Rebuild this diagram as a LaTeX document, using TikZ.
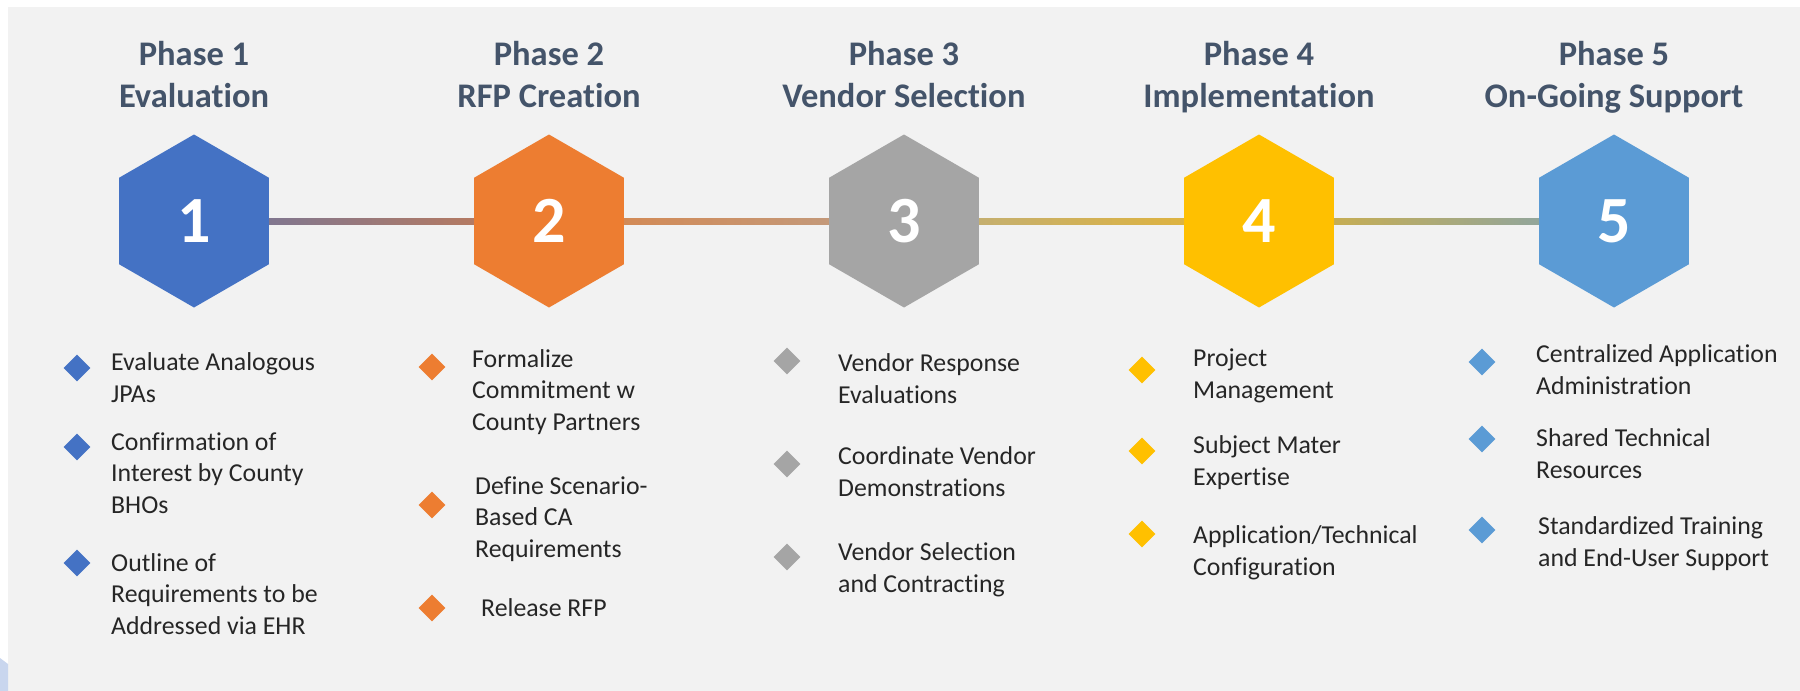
\documentclass[tikz,border=0pt]{standalone}
\usepackage{fontspec}
\setmainfont[Ligatures=NoCommon]{Carlito}
\usetikzlibrary{shapes.geometric,calc}
\pgfdeclarelayer{background}
\pgfsetlayers{background,main}
\definecolor{bg}{HTML}{F2F2F2}
\definecolor{cA}{HTML}{4472C4}
\definecolor{cB}{HTML}{ED7D31}
\definecolor{cC}{HTML}{A5A5A5}
\definecolor{cD}{HTML}{FFC000}
\definecolor{cE}{HTML}{5B9BD5}
\definecolor{titlec}{HTML}{44546A}
\definecolor{txt}{HTML}{262626}
\definecolor{cornerc}{HTML}{C9D6EE}
\begin{document}
\begin{tikzpicture}[x=1pt,y=-1pt,
  hexa/.style={regular polygon, regular polygon sides=6, shape border rotate=30,
    minimum size=173pt, inner sep=0pt, outer sep=0pt, fill=#1, draw=none,
    text=white, font=\bfseries\fontsize{66}{66}\selectfont},
  bullet/.style={diamond, aspect=1, minimum width=27pt, minimum height=27pt,
    inner sep=0pt, fill=#1, draw=none},
  item/.style={anchor=base west, align=left, inner sep=0pt, text=txt,
    font=\fontsize{25.8}{31.5}\selectfont},
  phasetitle/.style={anchor=base, align=center, inner sep=0pt, text=titlec,
    font=\bfseries\fontsize{34.5}{42}\selectfont}]
\useasboundingbox (0,0) rectangle (1800,691);
\begin{pgfonlayer}{background}
  \fill[white] (0,0) rectangle (1800,691);
  \fill[bg] (8,7) rectangle (1800,691);
  \fill[cornerc] (0,658) -- (8,664) -- (8,691) -- (0,691) -- cycle;
\end{pgfonlayer}

% titles (anchor = baseline of the last line)
\node[phasetitle] (t1) at (194,107) {Phase 1\\Evaluation};
\node[phasetitle] (t2) at (549,107) {Phase 2\\RFP Creation};
\node[phasetitle] (t3) at (904,107) {Phase 3\\Vendor Selection};
\node[phasetitle] (t4) at (1259,107) {Phase 4\\Implementation};
\node[phasetitle] (t5) at (1614,107) {Phase 5\\On-Going Support};

% hexagons
\node[hexa=cA] (h1) at (194,221) {1};
\node[hexa=cB] (h2) at (549,221) {2};
\node[hexa=cC] (h3) at (904,221) {3};
\node[hexa=cD] (h4) at (1259,221) {4};
\node[hexa=cE] (h5) at (1614,221) {5};

% connectors
\begin{pgfonlayer}{background}
  \shade[left color={rgb,255:red,110;green,118;blue,160}, right color={rgb,255:red,199;green,123;blue,82}]
    ($(h1.center)+(0,-3)$) rectangle ($(h2.center)+(0,3)$);
  \shade[left color={rgb,255:red,216;green,133;blue,74}, right color={rgb,255:red,190;green,158;blue,134}]
    ($(h2.center)+(0,-3)$) rectangle ($(h3.center)+(0,3)$);
  \shade[left color={rgb,255:red,188;green,174;blue,128}, right color={rgb,255:red,230;green,180;blue,48}]
    ($(h3.center)+(0,-3)$) rectangle ($(h4.center)+(0,3)$);
  \shade[left color={rgb,255:red,217;green,176;blue,58}, right color={rgb,255:red,127;green,163;blue,181}]
    ($(h4.center)+(0,-3)$) rectangle ($(h5.center)+(0,3)$);
\end{pgfonlayer}

% column 1
\node[bullet=cA] (d11) at (77,368) {};
\node[bullet=cA] (d12) at (77,447) {};
\node[bullet=cA] (d13) at (77,563) {};
\node[item] (i11) at (111,402) {Evaluate Analogous\\JPAs};
\node[item] (i12) at (111,513) {Confirmation of\\Interest by County\\BHOs};
\node[item] (i13) at (111,634) {Outline of\\Requirements to be\\Addressed via EHR};

% column 2
\node[bullet=cB] (d21) at (432,367) {};
\node[bullet=cB] (d22) at (432,505) {};
\node[bullet=cB] (d23) at (432,608) {};
\node[item] (i21) at (472,430) {Formalize\\Commitment w\\County Partners};
\node[item] (i22) at (475,557) {Define Scenario-\\Based CA\\Requirements};
\node[item] (i23) at (481,616) {Release RFP};

% column 3
\node[bullet=cC] (d31) at (787,361) {};
\node[bullet=cC] (d32) at (787,464) {};
\node[bullet=cC] (d33) at (787,557) {};
\node[item] (i31) at (838,403) {Vendor Response\\Evaluations};
\node[item] (i32) at (838,496) {Coordinate Vendor\\Demonstrations};
\node[item] (i33) at (838,592) {Vendor Selection\\and Contracting};

% column 4
\node[bullet=cD] (d41) at (1142,370) {};
\node[bullet=cD] (d42) at (1142,451) {};
\node[bullet=cD] (d43) at (1142,534) {};
\node[item] (i41) at (1193,398) {Project\\Management};
\node[item] (i42) at (1193,485) {Subject Mater\\Expertise};
\node[item] (i43) at (1193,575) {Application/Technical\\Configuration};

% column 5
\node[bullet=cE] (d51) at (1482,362) {};
\node[bullet=cE] (d52) at (1482,439) {};
\node[bullet=cE] (d53) at (1482,530) {};
\node[item] (i51) at (1536,394) {Centralized Application\\Administration};
\node[item] (i52) at (1536,478) {Shared Technical\\Resources};
\node[item] (i53) at (1538,566) {Standardized Training\\and End-User Support};
\end{tikzpicture}
\end{document}
